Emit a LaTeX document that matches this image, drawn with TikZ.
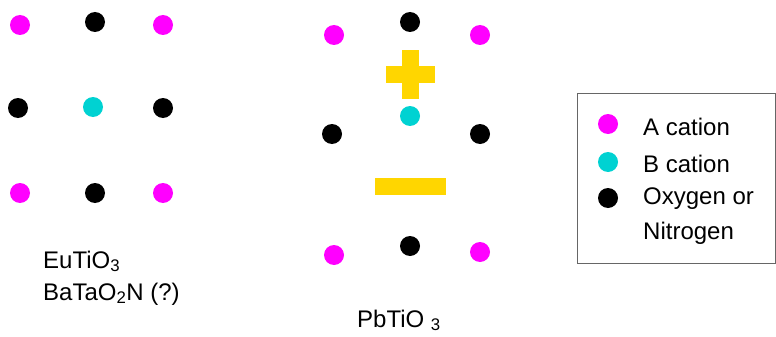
\documentclass[tikz,border=0pt]{standalone}
\usepackage{fontspec}
\setmainfont{Liberation Sans}
\usetikzlibrary{positioning}
\definecolor{acat}{RGB}{255,0,255}
\definecolor{bcat}{RGB}{0,210,210}
\definecolor{charge}{RGB}{255,214,0}
\tikzset{
  atom/.style={circle, inner sep=0pt, minimum size=20pt},
  acation/.style={atom, fill=acat},
  bcation/.style={atom, fill=bcat},
  anion/.style={atom, fill=black},
  formula/.style={anchor=base west, inner sep=0pt, font=\fontsize{24}{28}\selectfont},
  legtext/.style={anchor=west, inner sep=0pt, align=left, font=\fontsize{24}{35}\selectfont}
}
\begin{document}
\begin{tikzpicture}[x=1pt, y=-1pt]
  \useasboundingbox (0,0) rectangle (776,337);
  % centrosymmetric cell
  \node[acation] (a1) at (20,25) {};
  \node[acation] (a2) at (163,25) {};
  \node[acation] (a3) at (20,193) {};
  \node[acation] (a4) at (163,193) {};
  \node[anion] (o1) at (95,22) {};
  \node[anion] (o2) at (18,108) {};
  \node[anion] (o3) at (163,108) {};
  \node[anion] (o4) at (95,193) {};
  \node[bcation] (b1) at (93,107) {};
  \node[formula] (eu) at (43,268) {EuTiO\textsubscript{3}};
  \node[formula] (ba) at (43,300) {BaTaO\textsubscript{2}N (?)};
  % polar cell
  \node[acation] (pa1) at (334,35) {};
  \node[acation] (pa2) at (480,35) {};
  \node[acation] (pa3) at (334,255) {};
  \node[acation] (pa4) at (480,252) {};
  \node[anion] (po1) at (410,22) {};
  \node[anion] (po2) at (332,134) {};
  \node[anion] (po3) at (480,134) {};
  \node[anion] (po4) at (410,246) {};
  \node[bcation] (pb1) at (410,116) {};
  \fill[charge] (386,66) rectangle (435,83);
  \fill[charge] (402,50) rectangle (419,99);
  \fill[charge] (375,178) rectangle (446,195);
  \node[formula] (pb) at (357,327) {PbTiO \textsubscript{3}};
  % legend
  \draw[gray!80!black, line width=0.8pt] (577,93) rectangle (775,263);
  \node[acation] (la) at (608,124) {};
  \node[bcation] (lb) at (608,162) {};
  \node[anion] (lo) at (608,198) {};
  \node[legtext] (ta) at (643,127) {A cation};
  \node[legtext] (tb) at (643,164) {B cation};
  \node[legtext] (to) at (643,216) {Oxygen or\\Nitrogen};
\end{tikzpicture}
\end{document}
